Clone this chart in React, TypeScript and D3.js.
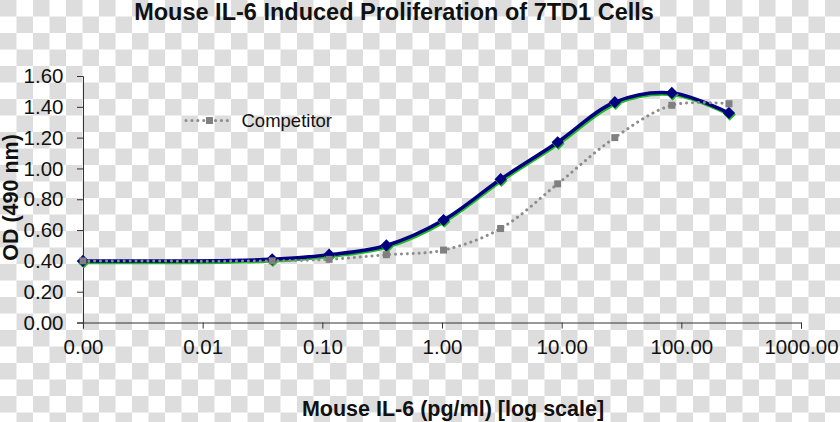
import React, { useEffect, useRef } from "react";
import * as d3 from "d3";

// Concentrations (pg/ml), 3-fold dilution series plus blank
const concentrations = [0.001, 0.0381, 0.114, 0.343, 1.03, 3.09, 9.26, 27.8, 83.3, 250];
const il6Values = [0.4, 0.41, 0.44, 0.5, 0.665, 0.93, 1.17, 1.43, 1.49, 1.36];
const competitorValues = [0.4, 0.4, 0.41, 0.44, 0.47, 0.61, 0.9, 1.2, 1.41, 1.42];
const xTickValues = [0.001, 0.01, 0.1, 1, 10, 100, 1000];
const yTickValues = [0, 0.2, 0.4, 0.6, 0.8, 1.0, 1.2, 1.4, 1.6];
const chartTitle = "Mouse IL-6 Induced Proliferation of 7TD1 Cells";
const xTitle = "Mouse IL-6 (pg/ml) [log scale]";
const yTitle = "OD (490 nm)";
const legendLabel = "Competitor";

const W = 840;
const H = 422;
const FONT = "'Liberation Sans', Arial, sans-serif";

export default function App() {
  const ref = useRef<SVGSVGElement | null>(null);

  useEffect(() => {
    const svg = d3.select(ref.current);
    svg.selectAll("*").remove();

    const x = d3.scaleLog().domain([0.001, 1000]).range([83, 801]);
    const y = d3.scaleLinear().domain([0, 1.6]).range([322.5, 76]);

    // checkerboard background
    const defs = svg.append("defs");
    const pat = defs
      .append("pattern")
      .attr("id", "checker")
      .attr("patternUnits", "userSpaceOnUse")
      .attr("width", 33)
      .attr("height", 33);
    pat.append("rect").attr("width", 33).attr("height", 33).attr("fill", "#ffffff");
    pat.append("rect").attr("x", 0).attr("y", 0).attr("width", 16.5).attr("height", 16.5).attr("fill", "#dddddd");
    pat.append("rect").attr("x", 16.5).attr("y", 16.5).attr("width", 16.5).attr("height", 16.5).attr("fill", "#dddddd");
    svg.append("rect").attr("width", W).attr("height", H).attr("fill", "url(#checker)");

    // axes
    const xAxis = d3
      .axisBottom(x)
      .tickValues(xTickValues)
      .tickFormat(d3.format(".2f") as any)
      .tickSizeOuter(0)
      .tickSize(6)
      .tickPadding(11);
    const gx = svg.append("g").attr("transform", `translate(0,${y(0)})`).call(xAxis);
    gx.selectAll("text").attr("font-size", 20.5).attr("font-family", FONT).attr("fill", "#111");
    gx.selectAll("line,path").attr("stroke", "#333");

    const yAxis = d3
      .axisLeft(y)
      .tickValues(yTickValues)
      .tickFormat(d3.format(".2f") as any)
      .tickSizeOuter(0)
      .tickSize(6)
      .tickPadding(13.5);
    const gy = svg.append("g").attr("transform", `translate(${x(0.001)},0)`).call(yAxis);
    gy.selectAll("text").attr("font-size", 20.5).attr("font-family", FONT).attr("fill", "#111");
    gy.selectAll("line,path").attr("stroke", "#333");

    const il6 = concentrations.map((c, i) => ({ c, v: il6Values[i] }));
    const comp = concentrations.map((c, i) => ({ c, v: competitorValues[i] }));

    const line = d3
      .line<{ c: number; v: number }>()
      .x((d) => x(d.c))
      .y((d) => y(d.v))
      .curve(d3.curveCatmullRom.alpha(0.5));

    // IL-6 series: green shadow + navy line
    svg
      .append("path")
      .attr("d", line(il6))
      .attr("fill", "none")
      .attr("stroke", "#22bb22")
      .attr("stroke-width", 3.5)
      .attr("transform", "translate(0.8,1.6)");
    svg
      .append("path")
      .attr("d", line(il6))
      .attr("fill", "none")
      .attr("stroke", "#000080")
      .attr("stroke-width", 3.5);

    const diamond = d3.symbol().type(d3.symbolDiamond2).size(95);
    svg
      .append("g")
      .selectAll("path")
      .data(il6)
      .join("path")
      .attr("d", diamond as any)
      .attr("transform", (d) => `translate(${x(d.c) + 0.8},${y(d.v) + 1.6})`)
      .attr("fill", "#22bb22");
    svg
      .append("g")
      .selectAll("path")
      .data(il6)
      .join("path")
      .attr("d", diamond as any)
      .attr("transform", (d) => `translate(${x(d.c)},${y(d.v)})`)
      .attr("fill", "#000080");

    // Competitor series: gray dotted line with squares
    svg
      .append("path")
      .attr("d", line(comp))
      .attr("fill", "none")
      .attr("stroke", "#8c8c8c")
      .attr("stroke-width", 3)
      .attr("stroke-linecap", "round")
      .attr("stroke-dasharray", "0.1 5.8");
    svg
      .append("g")
      .selectAll("rect")
      .data(comp)
      .join("rect")
      .attr("x", (d) => x(d.c) - 3.5)
      .attr("y", (d) => y(d.v) - 3.5)
      .attr("width", 7)
      .attr("height", 7)
      .attr("fill", "#808080");

    // legend
    const lg = svg.append("g");
    lg.append("line")
      .attr("x1", 186)
      .attr("x2", 233)
      .attr("y1", 120.5)
      .attr("y2", 120.5)
      .attr("stroke", "#8c8c8c")
      .attr("stroke-width", 3)
      .attr("stroke-linecap", "round")
      .attr("stroke-dasharray", "0.1 5.8");
    lg.append("rect").attr("x", 206).attr("y", 117).attr("width", 7).attr("height", 7).attr("fill", "#808080");
    lg.append("text")
      .attr("x", 241.5)
      .attr("y", 126.5)
      .attr("font-family", FONT)
      .attr("font-size", 18.5)
      .attr("fill", "#111")
      .text(legendLabel);

    // titles
    svg
      .append("text")
      .attr("x", 394)
      .attr("y", 19.5)
      .attr("text-anchor", "middle")
      .attr("font-family", FONT)
      .attr("font-weight", "bold")
      .attr("font-size", 23.5)
      .attr("fill", "#111")
      .text(chartTitle);
    svg
      .append("text")
      .attr("x", 453)
      .attr("y", 416)
      .attr("text-anchor", "middle")
      .attr("font-family", FONT)
      .attr("font-weight", "bold")
      .attr("font-size", 21.5)
      .attr("fill", "#111")
      .text(xTitle);
    svg
      .append("text")
      .attr("transform", "translate(17.5,197.5) rotate(-90)")
      .attr("text-anchor", "middle")
      .attr("font-family", FONT)
      .attr("font-weight", "bold")
      .attr("font-size", 21.5)
      .attr("fill", "#111")
      .text(yTitle);
  }, []);

  return (
    <svg
      ref={ref}
      width={W}
      height={H}
      style={{ position: "absolute", left: 0, top: 0, display: "block" }}
    />
  );
}
